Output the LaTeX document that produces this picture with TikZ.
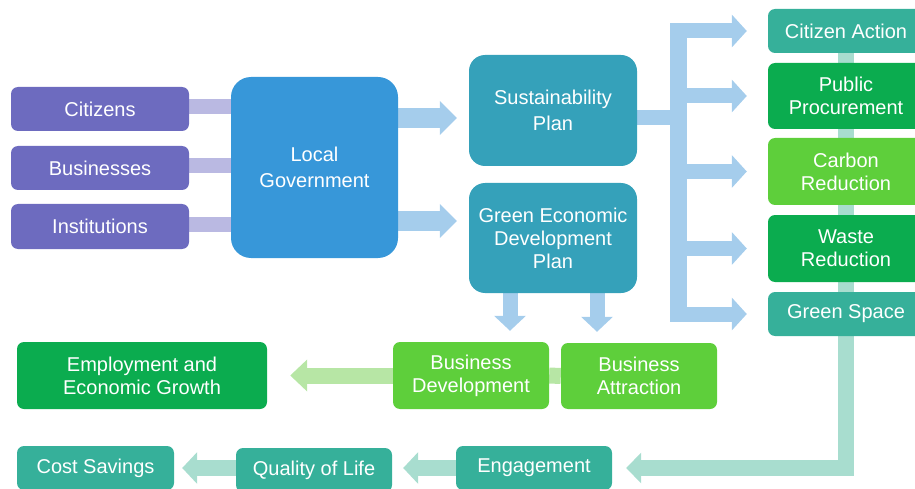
\documentclass[tikz,border=0pt]{standalone}
\usepackage{fontspec}
\setmainfont{Liberation Sans}
\usetikzlibrary{arrows.meta,backgrounds}
\definecolor{purp}{HTML}{6D6BBF}
\definecolor{lpurp}{HTML}{BAB9E2}
\definecolor{govblue}{HTML}{3797D9}
\definecolor{lblue}{HTML}{A5CDEC}
\definecolor{planteal}{HTML}{35A1BA}
\definecolor{tgreen}{HTML}{36B09A}
\definecolor{dgreen}{HTML}{0BAC4F}
\definecolor{lgreen}{HTML}{5ECF3B}
\definecolor{lgarrow}{HTML}{B7E6A5}
\definecolor{ltbar}{HTML}{A8DDCF}
\begin{document}
\begin{tikzpicture}[x=1pt,y=-1pt,
  box/.style={rounded corners=7pt, inner sep=0pt, text=white, align=center,
    font=\fontsize{20}{23}\selectfont},
  bigbox/.style={box, rounded corners=16pt, font=\fontsize{20}{26}\selectfont},
  bar/.style={line width=#1},
  blk/.style n args={3}{line width=#1, -{Triangle[width=#2, length=#3]}},
]
\useasboundingbox (0,0) rectangle (915,489);

% left inputs
\node[box, fill=purp, minimum width=178pt, minimum height=44pt] (cit) at (100,109) {Citizens};
\node[box, fill=purp, minimum width=178pt, minimum height=44pt] (bus) at (100,168) {Businesses};
\node[box, fill=purp, minimum width=178pt, minimum height=45pt] (inst) at (100,226.5) {Institutions};
\node[bigbox, fill=govblue, rounded corners=20pt, minimum width=167pt, minimum height=181pt] (lg) at (314.5,167.5) {Local\\Government};

% plans
\node[bigbox, fill=planteal, minimum width=168pt, minimum height=111pt] (sp) at (553,110.5) {Sustainability\\Plan};
\node[box, rounded corners=16pt, fill=planteal, minimum width=168pt, minimum height=110pt] (gedp) at (553,238) {Green Economic\\Development\\Plan};

% right column
\node[box, fill=tgreen, minimum width=156pt, minimum height=44pt] (ca) at (846,31) {Citizen Action};
\node[box, fill=dgreen, minimum width=156pt, minimum height=66pt] (pp) at (846,96) {Public\\Procurement};
\node[box, fill=lgreen, minimum width=156pt, minimum height=67pt] (cr) at (846,171.5) {Carbon\\Reduction};
\node[box, fill=dgreen, minimum width=156pt, minimum height=67pt] (wr) at (846,248.5) {Waste\\Reduction};
\node[box, fill=tgreen, minimum width=156pt, minimum height=44pt] (gs) at (846,314) {Green Space};

% business row
\node[box, fill=dgreen, minimum width=250pt, minimum height=67pt] (emp) at (142,375.5) {Employment and\\Economic Growth};
\node[box, fill=lgreen, minimum width=156pt, minimum height=67pt] (bd) at (471,375.5) {Business\\Development};
\node[box, fill=lgreen, minimum width=156pt, minimum height=66pt] (ba) at (639,376) {Business\\Attraction};

% outcome row
\node[box, fill=tgreen, minimum width=157pt, minimum height=44pt] (cs) at (95.5,468) {Cost Savings};
\node[box, fill=tgreen, minimum width=156pt, minimum height=44pt] (qol) at (314,470) {Quality of Life};
\node[box, fill=tgreen, minimum width=156pt, minimum height=44pt] (eng) at (534,468) {Engagement};

\coordinate (a1) at (0,118);
\coordinate (a2) at (0,221);
\coordinate (d1) at (510,0);
\coordinate (d2) at (597,0);
\coordinate (trL) at (670,0);
\coordinate (trT) at (678,23);
\coordinate (trB) at (678,322);

\begin{scope}[on background layer]
  % inputs to government
  \draw[lpurp, bar=15pt] ([yshift=2.5pt]cit.east) -- ([yshift=2.5pt]cit.east -| lg.west);
  \draw[lpurp, bar=15pt] ([yshift=2.5pt]bus.east) -- ([yshift=2.5pt]bus.east -| lg.west);
  \draw[lpurp, bar=15pt] ([yshift=2.5pt]inst.east) -- ([yshift=2.5pt]inst.east -| lg.west);
  % government to plans
  \draw[lblue, blk={20pt}{33pt}{17pt}, shorten >=12pt] (lg.east |- a1) -- (sp.west |- a1);
  \draw[lblue, blk={20pt}{33pt}{17pt}, shorten >=12pt] (lg.east |- a2) -- (gedp.west |- a2);
  % GEDP down to business
  \draw[lblue, blk={15pt}{31pt}{15pt}, shorten >=11pt] (gedp.south -| d1) -- (bd.north -| d1);
  \draw[lblue, blk={15pt}{31pt}{15pt}, shorten >=11pt] (gedp.south -| d2) -- (ba.north -| d2);
  % sustainability plan fan-out
  \draw[lblue, bar=15pt] ([yshift=-7.5pt]sp.east) -- ++(41,0);
  \draw[lblue, bar=17pt] (trT) -- (trB);
  \draw[lblue, blk={15pt}{32pt}{15pt}, shorten >=21pt] (ca.west -| trL) -- (ca.west);
  \draw[lblue, blk={15pt}{32pt}{15pt}, shorten >=21pt] (pp.west -| trT) -- (pp.west);
  \draw[lblue, blk={15pt}{32pt}{15pt}, shorten >=21pt] (cr.west -| trT) -- (cr.west);
  \draw[lblue, blk={15pt}{32pt}{15pt}, shorten >=21pt] (wr.west -| trT) -- (wr.west);
  \draw[lblue, blk={15pt}{32pt}{15pt}, shorten >=21pt] (gs.west -| trL) -- (gs.west);
  % right column down to engagement
  \draw[ltbar, blk={16pt}{30pt}{15pt}, shorten >=14pt] (ca.south) |- (eng.east);
  % business row
  \draw[lgarrow, bar=16pt] (bd.east) -- (ba.west);
  \draw[lgarrow, blk={16pt}{31pt}{17pt}, shorten >=23pt] (bd.west) -- (emp.east);
  % outcome row
  \draw[ltbar, blk={16pt}{31pt}{15pt}, shorten >=11pt] (eng.west) -- (eng.west -| qol.east);
  \draw[ltbar, blk={16pt}{31pt}{15pt}, shorten >=8pt] (cs.east -| qol.west) -- (cs.east);
\end{scope}
\end{tikzpicture}
\end{document}
